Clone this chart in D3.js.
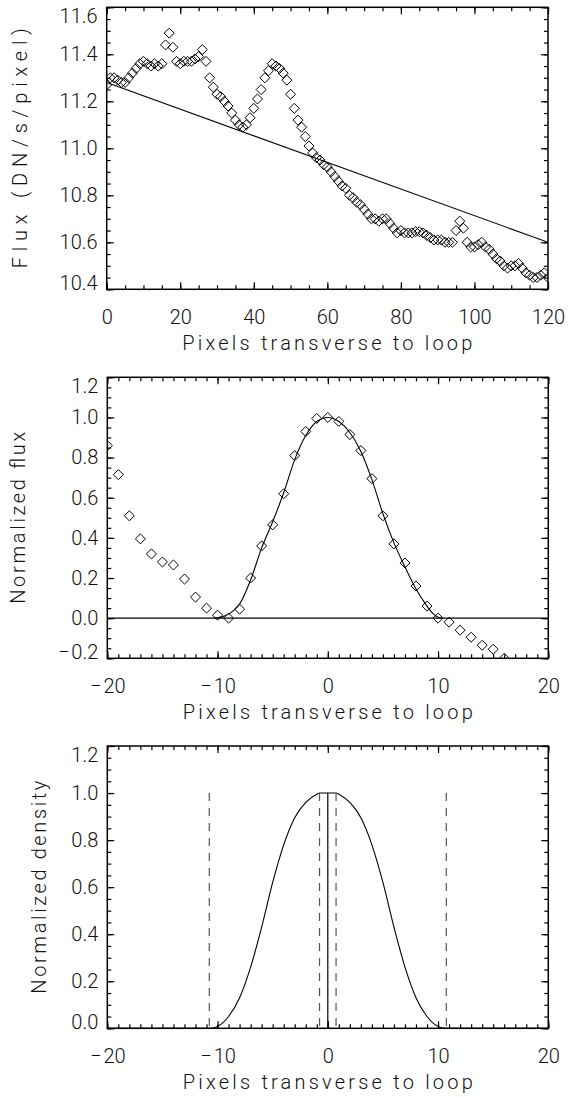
<!DOCTYPE html>
<html>
<head>
<meta charset="utf-8">
<script src="https://cdn.jsdelivr.net/npm/d3@7"></script>
<style>
body { margin: 0; background: #fff; }
text { font-family: Roboto, "Liberation Sans", sans-serif; font-weight: 300; fill: #111; font-size: 20px; }
.axis line { stroke: #000; stroke-width: 1.2; }
</style>
</head>
<body>
<div id="graphic"></div>
<script>
// ---- panel 1: flux along the cut ----
var fluxValues = [11.27, 11.30, 11.30, 11.29, 11.28, 11.28, 11.30, 11.32, 11.34, 11.36,
  11.37, 11.36, 11.35, 11.36, 11.35, 11.36, 11.44, 11.49, 11.43, 11.37,
  11.36, 11.37, 11.37, 11.37, 11.38, 11.39, 11.42, 11.37, 11.30, 11.26,
  11.23, 11.22, 11.20, 11.18, 11.15, 11.12, 11.10, 11.09, 11.10, 11.13,
  11.17, 11.21, 11.25, 11.30, 11.33, 11.36, 11.35, 11.34, 11.32, 11.29,
  11.23, 11.17, 11.12, 11.09, 11.05, 11.01, 10.98, 10.96, 10.95, 10.93,
  10.92, 10.90, 10.88, 10.86, 10.84, 10.83, 10.80, 10.79, 10.77, 10.76,
  10.74, 10.72, 10.70, 10.70, 10.69, 10.70, 10.70, 10.68, 10.66, 10.64,
  10.65, 10.64, 10.64, 10.64, 10.645, 10.645, 10.64, 10.63, 10.62, 10.61,
  10.61, 10.61, 10.60, 10.60, 10.60, 10.65, 10.69, 10.66, 10.60, 10.58,
  10.58, 10.59, 10.60, 10.58, 10.57, 10.55, 10.53, 10.52, 10.50, 10.49,
  10.50, 10.50, 10.51, 10.49, 10.47, 10.46, 10.45, 10.45, 10.46, 10.47,
  10.45];
var fitX = [0, 120];
var fitY = [11.28, 10.60];
var fluxXTicks = [0, 20, 40, 60, 80, 100, 120];
var fluxYTicks = [10.4, 10.6, 10.8, 11.0, 11.2, 11.4, 11.6];

// ---- panel 2: normalized flux profile ----
var profX = [-20, -19, -18, -17, -16, -15, -14, -13, -12, -11, -10, -9, -8, -7, -6, -5, -4, -3, -2,
  -1, 0, 1, 2, 3, 4, 5, 6, 7, 8, 9, 10, 11, 12, 13, 14, 15, 16];
var profFlux = [0.86, 0.715, 0.51, 0.395, 0.32, 0.28, 0.265, 0.195, 0.105, 0.05, 0.015, 0.0, 0.045,
  0.2, 0.36, 0.465, 0.62, 0.81, 0.93, 0.995, 1.0, 0.98, 0.915, 0.835, 0.695, 0.51, 0.37, 0.275,
  0.16, 0.06, 0.0, -0.02, -0.06, -0.095, -0.135, -0.155, -0.2];
var modelX = [-10.3, -10, -9.5, -9, -8.5, -8, -7, -6, -5, -4, -3, -2, -1, 0, 1, 2, 3, 4, 5, 6, 7, 8, 9, 9.5, 10, 10.4];
var modelFlux = [0, 0.002, 0.008, 0.02, 0.04, 0.07, 0.19, 0.35, 0.48, 0.625, 0.79, 0.91, 0.98, 1.0,
  0.98, 0.925, 0.83, 0.69, 0.52, 0.375, 0.255, 0.145, 0.06, 0.025, 0.005, 0];
var zeroX = [-20, 20];
var zeroY = [0, 0];

// ---- panel 3: density model ----
var densX = [-20, -10.75, -10, -9, -8, -7, -6, -5, -4, -3, -2, -1, -0.75, 0.75, 1, 2, 3, 4, 5, 6, 7, 8, 9, 10, 10.75, 20];
var densY = [0, 0, 0.008, 0.05, 0.13, 0.26, 0.43, 0.62, 0.78, 0.895, 0.96, 0.995, 1, 1, 0.995, 0.96,
  0.895, 0.78, 0.62, 0.43, 0.26, 0.13, 0.05, 0.008, 0, 0];
var dashX = [-10.75, -0.75, 0.75, 10.75];
var centerX = [0];
var markTop = 1.0;

var profXTicks = [-20, -10, 0, 10, 20];
var profYTicks = [-0.2, 0.0, 0.2, 0.4, 0.6, 0.8, 1.0, 1.2];
var densYTicks = [0.0, 0.2, 0.4, 0.6, 0.8, 1.0, 1.2];

var xTitle = "Pixels transverse to loop";

var svg = d3.select("#graphic").append("svg")
    .attr("width", 568)
    .attr("height", 1097);

var fmt1 = d3.format(".1f");

// long minus like the IDL vector font
function labelMinus(sel, f) {
  sel.selectAll(".tick text").each(function (d) {
    if (d < 0) {
      var t = d3.select(this);
      t.text("");
      t.append("tspan").text("\u2212");
      t.append("tspan").attr("dx", 2).text(f(-d));
    }
  });
}

// box with inward ticks on all four sides, IDL style
function makePanel(box, xDom, yDom, xMajor, xMinorStep, yMajor, yMinorStep, yFmt, xFmt) {
  var w = box.right - box.left, h = box.bottom - box.top;
  var g = svg.append("g").attr("transform", "translate(" + box.left + "," + box.top + ")");
  var x = d3.scaleLinear().domain(xDom).range([0, w]);
  var y = d3.scaleLinear().domain(yDom).range([h, 0]);
  var xMinor = d3.range(xDom[0], xDom[1] + 1e-9, xMinorStep);
  var yMinor = d3.range(0, Math.round((yDom[1] - yDom[0]) / yMinorStep) + 1).map(k => yDom[0] + k * yMinorStep);

  function clean(s) { s.select(".domain").remove(); }

  // bottom
  g.append("g").attr("class", "axis").attr("transform", "translate(0," + h + ")")
    .call(d3.axisBottom(x).tickValues(xMinor).tickSize(-4).tickSizeOuter(0).tickFormat("")).call(clean);
  var bx = g.append("g").attr("class", "axis").attr("transform", "translate(0," + h + ")")
    .call(d3.axisBottom(x).tickValues(xMajor).tickSize(-7).tickSizeOuter(0).tickPadding(21).tickFormat(xFmt)).call(clean);
  labelMinus(bx, xFmt);
  // top
  g.append("g").attr("class", "axis")
    .call(d3.axisTop(x).tickValues(xMinor).tickSize(-4).tickSizeOuter(0).tickFormat("")).call(clean);
  g.append("g").attr("class", "axis")
    .call(d3.axisTop(x).tickValues(xMajor).tickSize(-7).tickSizeOuter(0).tickFormat("")).call(clean);
  // left
  g.append("g").attr("class", "axis")
    .call(d3.axisLeft(y).tickValues(yMinor).tickSize(-4).tickSizeOuter(0).tickFormat("")).call(clean);
  var ly = g.append("g").attr("class", "axis")
    .call(d3.axisLeft(y).tickValues(yMajor).tickSize(-7).tickSizeOuter(0).tickPadding(9).tickFormat(yFmt)).call(clean);
  labelMinus(ly, yFmt);
  // end labels sit inside the box edges
  ly.selectAll(".tick text")
    .attr("y", d => Math.abs(d - yDom[1]) < 1e-9 ? 9 : (Math.abs(d - yDom[0]) < 1e-9 ? -6 : 0));
  // right
  g.append("g").attr("class", "axis").attr("transform", "translate(" + w + ",0)")
    .call(d3.axisRight(y).tickValues(yMinor).tickSize(-4).tickSizeOuter(0).tickFormat("")).call(clean);
  g.append("g").attr("class", "axis").attr("transform", "translate(" + w + ",0)")
    .call(d3.axisRight(y).tickValues(yMajor).tickSize(-7).tickSizeOuter(0).tickFormat("")).call(clean);

  g.append("rect")
    .attr("width", w).attr("height", h)
    .attr("fill", "none").attr("stroke", "#000").attr("stroke-width", 1.5);

  var id = "clip" + box.top;
  g.append("clipPath").attr("id", id).append("rect").attr("width", w).attr("height", h);
  var plot = g.append("g").attr("clip-path", "url(#" + id + ")");

  // x title
  g.append("text")
    .attr("x", w / 2).attr("y", h + 61)
    .attr("text-anchor", "middle")
    .attr("textLength", 290).attr("lengthAdjust", "spacing")
    .text(xTitle);

  return { g: g, plot: plot, x: x, y: y, w: w, h: h };
}

function yTitle(p, text, bx, len) {
  p.g.append("text")
    .attr("transform", "translate(" + (bx - 107) + "," + (p.h / 2) + ") rotate(-90)")
    .attr("text-anchor", "middle")
    .attr("textLength", len).attr("lengthAdjust", "spacing")
    .text(text);
}

var diamond = d3.symbol(d3.symbolDiamond2, 64);

function drawDiamonds(p, xs, ys) {
  p.plot.selectAll(null)
    .data(ys)
    .enter()
    .append("path")
    .attr("d", diamond)
    .attr("transform", (d, i) => "translate(" + p.x(xs[i]) + "," + p.y(d) + ")")
    .attr("fill", "none")
    .attr("stroke", "#000")
    .attr("stroke-width", 1);
}

function drawLine(p, xs, ys, curve) {
  var line = d3.line()
    .x((d, i) => p.x(xs[i]))
    .y(d => p.y(d))
    .curve(curve || d3.curveLinear);
  p.plot.append("path")
    .datum(ys)
    .attr("fill", "none")
    .attr("stroke", "#000")
    .attr("stroke-width", 1.1)
    .attr("d", line);
}

// panel 1
var p1 = makePanel({ left: 106.7, right: 548, top: 7.3, bottom: 289.3 }, [0, 120], [10.4, 11.6],
  fluxXTicks, 5, fluxYTicks, 0.05, fmt1, d3.format("d"));
yTitle(p1, "Flux (DN/s/pixel)", 27, 240);
drawLine(p1, fitX, fitY);
drawDiamonds(p1, fluxValues.map((d, i) => i), fluxValues);

// panel 2
var p2 = makePanel({ left: 107.3, right: 548.3, top: 377.3, bottom: 658.3 }, [-20, 20], [-0.2, 1.2],
  profXTicks, 1, profYTicks, 0.05, fmt1, d3.format("d"));
yTitle(p2, "Normalized flux", 25, 172);
drawLine(p2, zeroX, zeroY);
drawLine(p2, modelX, modelFlux, d3.curveMonotoneX);
drawDiamonds(p2, profX, profFlux);

// panel 3
var p3 = makePanel({ left: 107.3, right: 548.3, top: 746, bottom: 1028.3 }, [-20, 20], [0, 1.2],
  profXTicks, 1, densYTicks, 0.05, fmt1, d3.format("d"));
yTitle(p3, "Normalized density", 46, 213);
drawLine(p3, densX, densY, d3.curveMonotoneX);

p3.plot.selectAll(".dash")
  .data(dashX)
  .enter()
  .append("line")
  .attr("class", "dash")
  .attr("x1", d => p3.x(d)).attr("x2", d => p3.x(d))
  .attr("y1", p3.y(markTop)).attr("y2", p3.y(0))
  .attr("stroke", "#555")
  .attr("stroke-width", 1.2)
  .attr("stroke-dasharray", "8,7");

p3.plot.selectAll(".mid")
  .data(centerX)
  .enter()
  .append("line")
  .attr("class", "mid")
  .attr("x1", d => p3.x(d)).attr("x2", d => p3.x(d))
  .attr("y1", p3.y(markTop)).attr("y2", p3.y(0))
  .attr("stroke", "#000")
  .attr("stroke-width", 1.2);
</script>
</body>
</html>
